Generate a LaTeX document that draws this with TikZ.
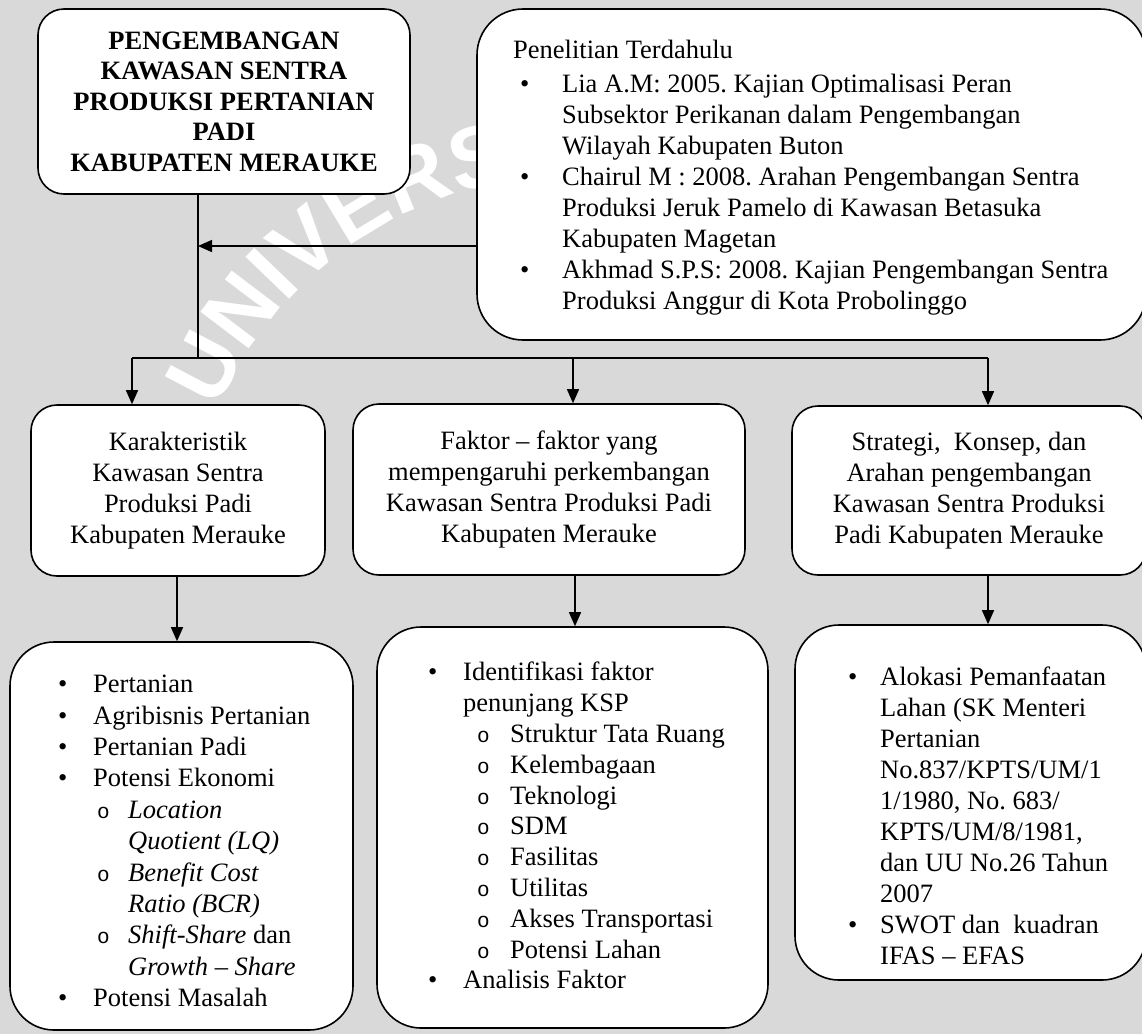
\documentclass[tikz,border=0pt]{standalone}
\usepackage{fontspec}
\setmainfont{Liberation Serif}
\newfontfamily\wmfont{Liberation Sans}
\newfontfamily\subfont{Liberation Mono}
\usetikzlibrary{arrows.meta,decorations.text}
\definecolor{bgcol}{RGB}{217,217,217}
\frenchspacing
\newcommand{\BL}[3]{\hspace*{#1}\makebox[#2][l]{\textbullet}#3}
\newcommand{\SL}[3]{\hspace*{#1}\makebox[#2][l]{\subfont\fontsize{21}{21}\selectfont o}#3}
\begin{document}
\begin{tikzpicture}[x=1pt,y=1pt,
  box/.style={draw, line width=1.6pt, fill=white, rounded corners=#1, inner sep=0pt, align=center},
  box/.default=26pt,
  txt/.style={font=\fontsize{26.5}{31}\selectfont},
  ttl/.style={font=\bfseries\fontsize{26.5}{30.5}\selectfont},
  lst/.style={font=\fontsize{26.5}{#1}\selectfont, align=left, anchor=north west, inner sep=0pt},
  conn/.style={line width=1.4pt},
  arr/.style={line width=1.4pt, -{Triangle[length=14pt,width=12pt]}}]
\useasboundingbox (0,0) rectangle (1142,-1034);
\fill[bgcol] (0,0) rectangle (1142,-1034);
% watermark
\path[decorate, decoration={text along path, text align=left, text color=white,
  text={|\wmfont\bfseries\fontsize{88}{88}\selectfont|UNIVERSITAS}}]
  (570,-560) ++(157:383) arc[start angle=157, end angle=20, radius=383];

% boxes
\node[box, ttl, minimum width=372pt, minimum height=185pt] (title) at (224,-101.5)
  {PENGEMBANGAN\\KAWASAN SENTRA\\PRODUKSI PERTANIAN\\PADI\\KABUPATEN MERAUKE};

\node[box=46pt, minimum width=669pt, minimum height=331pt] (res) at (811.5,-174.5) {};
\node[lst=31] (rest) at (477,-40)
  {\hspace*{36pt}Penelitian Terdahulu\\[3pt]
   \BL{43pt}{42pt}{Lia A.M: 2005. Kajian Optimalisasi Peran}\\
   \hspace*{85pt}Subsektor Perikanan dalam Pengembangan\\
   \hspace*{85pt}Wilayah Kabupaten Buton\\
   \BL{43pt}{42pt}{Chairul M : 2008. Arahan Pengembangan Sentra}\\
   \hspace*{85pt}Produksi Jeruk Pamelo di Kawasan Betasuka\\
   \hspace*{85pt}Kabupaten Magetan\\
   \BL{43pt}{42pt}{Akhmad S.P.S: 2008. Kajian Pengembangan Sentra}\\
   \hspace*{85pt}Produksi Anggur di Kota Probolinggo};

\node[box, txt, minimum width=294pt, minimum height=171pt] (kar) at (178,-490.5)
  {Karakteristik\\Kawasan Sentra\\Produksi Padi\\Kabupaten Merauke};
\node[box, txt, minimum width=392pt, minimum height=171pt] (fak) at (549,-489.5)
  {Faktor -- faktor yang\\mempengaruhi perkembangan\\Kawasan Sentra Produksi Padi\\Kabupaten Merauke};
\node[box, txt, minimum width=354pt, minimum height=169pt] (str) at (969,-490.5)
  {Strategi,\ \ Konsep, dan\\Arahan pengembangan\\Kawasan Sentra Produksi\\Padi Kabupaten Merauke};

\node[box=44pt, minimum width=343pt, minimum height=388pt] (lb) at (181.5,-836) {};
\node[lst=31.4] (lbt) at (10,-675)
  {\BL{48pt}{35pt}{Pertanian}\\
   \BL{48pt}{35pt}{Agribisnis Pertanian}\\
   \BL{48pt}{35pt}{Pertanian Padi}\\
   \BL{48pt}{35pt}{Potensi Ekonomi}\\
   \SL{87pt}{31pt}{\textit{Location}}\\
   \hspace*{118pt}\textit{Quotient (LQ)}\\
   \SL{87pt}{31pt}{\textit{Benefit Cost}}\\
   \hspace*{118pt}\textit{Ratio (BCR)}\\
   \SL{87pt}{31pt}{\textit{Shift-Share} dan}\\
   \hspace*{118pt}\textit{Growth -- Share}\\
   \BL{48pt}{35pt}{Potensi Masalah}};

\node[box=44pt, minimum width=391pt, minimum height=401pt] (mb) at (572.5,-827.5) {};
\node[lst=30.8] (mbt) at (377,-662)
  {\BL{51pt}{35pt}{Identifikasi faktor}\\
   \hspace*{86pt}penunjang KSP\\
   \SL{100pt}{33pt}{Struktur Tata Ruang}\\
   \SL{100pt}{33pt}{Kelembagaan}\\
   \SL{100pt}{33pt}{Teknologi}\\
   \SL{100pt}{33pt}{SDM}\\
   \SL{100pt}{33pt}{Fasilitas}\\
   \SL{100pt}{33pt}{Utilitas}\\
   \SL{100pt}{33pt}{Akses Transportasi}\\
   \SL{100pt}{33pt}{Potensi Lahan}\\
   \BL{51pt}{35pt}{Analisis Faktor}};

\node[box=44pt, minimum width=351pt, minimum height=355pt] (rb) at (970.5,-802.5) {};
\node[lst=31] (rbt) at (795,-667)
  {\BL{53pt}{32pt}{Alokasi Pemanfaatan}\\
   \hspace*{85pt}Lahan (SK Menteri\\
   \hspace*{85pt}Pertanian\\
   \hspace*{85pt}No.837/KPTS/UM/1\\
   \hspace*{85pt}1/1980, No. 683/\\
   \hspace*{85pt}KPTS/UM/8/1981,\\
   \hspace*{85pt}dan UU No.26 Tahun\\
   \hspace*{85pt}2007\\
   \BL{53pt}{32pt}{SWOT dan\ \ kuadran}\\
   \hspace*{85pt}IFAS -- EFAS};

% connectors
\coordinate (j0) at (198,-358);
\coordinate (j1) at (198,-246);
\coordinate (k1) at (132,-358);
\coordinate (k2) at (573,-358);
\coordinate (k3) at (988,-358);
\draw[conn] (title.south -| j0) -- (j0);
\draw[arr] (res.west |- j1) -- (j1);
\draw[conn] (k1) -- (k3);
\draw[arr] (k1) -- (kar.north -| k1);
\draw[arr] (k2) -- (fak.north -| k2);
\draw[arr] (k3) -- (str.north -| k3);
\coordinate (m1) at (177,0);
\coordinate (m2) at (575,0);
\coordinate (m3) at (988,0);
\draw[arr] (kar.south -| m1) -- (lb.north -| m1);
\draw[arr] (fak.south -| m2) -- (mb.north -| m2);
\draw[arr] (str.south -| m3) -- (rb.north -| m3);
\end{tikzpicture}
\end{document}
